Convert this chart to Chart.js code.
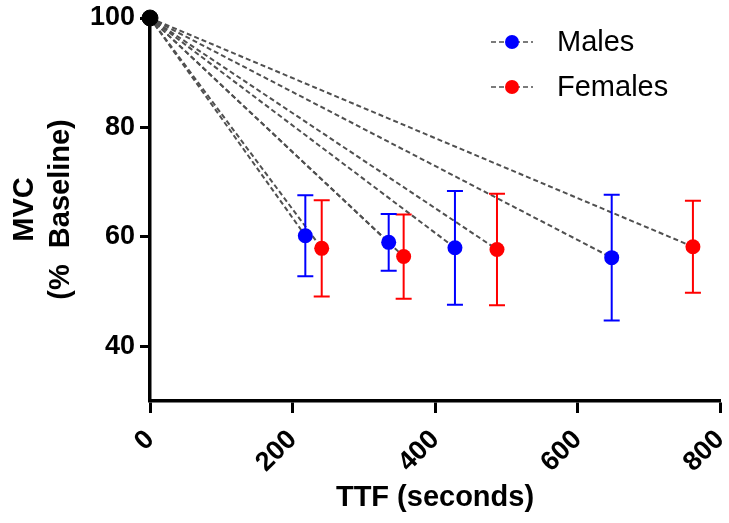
<!DOCTYPE html>
<html>
<head>
<meta charset="utf-8">
<script src="https://cdn.jsdelivr.net/npm/chart.js@4/dist/chart.umd.min.js"></script>
<style>
html, body { margin: 0; padding: 0; background: #fff; }
</style>
</head>
<body>
<canvas id="c" width="729" height="523"></canvas>
<script>
// values
const maleTTF = [218, 335, 428, 648];
const maleMVC = [60.2, 59.0, 58.0, 56.2];
const maleSD = [7.4, 5.2, 10.4, 11.5];
const femaleTTF = [241, 356, 487, 762];
const femaleMVC = [57.9, 56.4, 57.7, 58.2];
const femaleSD = [8.8, 7.7, 10.2, 8.4];
const baseTTF = 0;
const baseMVC = 100;
const xTicks = [0, 200, 400, 600, 800];
const yTicks = [40, 60, 80, 100];
const seriesNames = ['Males', 'Females'];

const FONT = "'Liberation Sans', Arial, sans-serif";
const BLUE = '#0000ff';
const RED = '#ff0000';
const DASH = '#505050';

const toPoints = (xs, ys) => xs.map((v, i) => ({x: v, y: ys[i]}));

// dashed lines from the baseline point to each group mean
const spokes = [];
[[maleTTF, maleMVC], [femaleTTF, femaleMVC]].forEach(([xs, ys]) => {
  xs.forEach((v, i) => {
    spokes.push({
      type: 'scatter',
      showLine: true,
      data: [{x: baseTTF, y: baseMVC}, {x: v, y: ys[i]}],
      borderColor: DASH,
      borderWidth: 2,
      borderDash: [5, 3],
      pointRadius: 0,
      clip: false,
      order: 2
    });
  });
});

const errorBars = {
  id: 'errorBars',
  beforeDatasetDraw(chart, args) {
    const ds = chart.data.datasets[args.index];
    if (!ds.errors) return;
    const {ctx} = chart;
    const x = chart.scales.x, y = chart.scales.y;
    ctx.save();
    ctx.strokeStyle = ds.backgroundColor;
    ctx.lineWidth = 2;
    ds.data.forEach((p, i) => {
      const px = x.getPixelForValue(p.x);
      const top = y.getPixelForValue(p.y + ds.errors[i]);
      const bot = y.getPixelForValue(p.y - ds.errors[i]);
      ctx.beginPath();
      ctx.moveTo(px, top); ctx.lineTo(px, bot);
      ctx.moveTo(px - 8, top); ctx.lineTo(px + 8, top);
      ctx.moveTo(px - 8, bot); ctx.lineTo(px + 8, bot);
      ctx.stroke();
    });
    ctx.restore();
  }
};

// legend inside the plot, dashed line with a dot like the original
const insideLegend = {
  id: 'insideLegend',
  afterDraw(chart) {
    const {ctx} = chart;
    const items = [[seriesNames[0], BLUE, 42], [seriesNames[1], RED, 87]];
    ctx.save();
    items.forEach(([name, col, yy]) => {
      ctx.strokeStyle = DASH;
      ctx.lineWidth = 1.5;
      ctx.setLineDash([5, 3]);
      ctx.beginPath();
      ctx.moveTo(491, yy); ctx.lineTo(533, yy);
      ctx.stroke();
      ctx.setLineDash([]);
      ctx.fillStyle = col;
      ctx.beginPath();
      ctx.arc(512, yy, 7, 0, Math.PI * 2);
      ctx.fill();
      ctx.fillStyle = '#000';
      ctx.font = '29px ' + FONT;
      ctx.textBaseline = 'middle';
      ctx.textAlign = 'left';
      ctx.fillText(name, 557, yy + 1);
    });
    ctx.restore();
  }
};

const noPad = (s) => { s.paddingTop = 0; s.paddingBottom = 0; s.paddingLeft = 0; s.paddingRight = 0; };

new Chart(document.getElementById('c'), {
  type: 'scatter',
  data: {
    datasets: [
      {
        label: seriesNames[0],
        data: toPoints(maleTTF, maleMVC),
        errors: maleSD,
        backgroundColor: BLUE,
        borderColor: BLUE,
        pointRadius: 7.5,
        pointBorderWidth: 0,
        clip: false,
        order: 0
      },
      {
        label: seriesNames[1],
        data: toPoints(femaleTTF, femaleMVC),
        errors: femaleSD,
        backgroundColor: RED,
        borderColor: RED,
        pointRadius: 7.5,
        pointBorderWidth: 0,
        clip: false,
        order: 0
      },
      {
        label: 'baseline',
        data: [{x: baseTTF, y: baseMVC}],
        backgroundColor: '#000',
        borderColor: '#000',
        pointRadius: 8,
        clip: false,
        order: 0
      },
      ...spokes
    ]
  },
  options: {
    responsive: false,
    animation: false,
    layout: { padding: { top: 18, right: 5, left: 0, bottom: 0 } },
    plugins: { legend: { display: false }, tooltip: { enabled: false } },
    scales: {
      x: {
        type: 'linear',
        min: 0,
        max: 800,
        afterBuildTicks: (s) => { s.ticks = xTicks.map(v => ({value: v})); },
        afterFit: (s) => { s.height = 122; noPad(s); },
        border: { display: true, color: '#000', width: 3.5 },
        grid: { drawOnChartArea: false, drawTicks: true, tickLength: 12, tickWidth: 3, tickColor: '#000' },
        ticks: { minRotation: 45, maxRotation: 45, padding: 11, color: '#000', font: { family: FONT, size: 27, weight: 'bold' } },
        title: { display: true, text: 'TTF (seconds)', color: '#000', padding: { top: 0, bottom: 8 }, font: { family: FONT, size: 29, weight: 'bold' } }
      },
      y: {
        type: 'linear',
        min: 30,
        max: 100,
        afterBuildTicks: (s) => { s.ticks = yTicks.map(v => ({value: v})); },
        afterFit: (s) => { s.width = 150; noPad(s); },
        border: { display: true, color: '#000', width: 3.5 },
        grid: { drawOnChartArea: false, drawTicks: true, tickLength: 10, tickWidth: 3, tickColor: '#000' },
        ticks: { padding: 5, color: '#000', font: { family: FONT, size: 27, weight: 'bold' } },
        title: { display: true, text: ['MVC', '(%  Baseline)'], color: '#000', padding: { top: 7, bottom: 0 }, font: { family: FONT, size: 29, weight: 'bold', lineHeight: 1.25 } }
      }
    }
  },
  plugins: [errorBars, insideLegend]
});
</script>
</body>
</html>
